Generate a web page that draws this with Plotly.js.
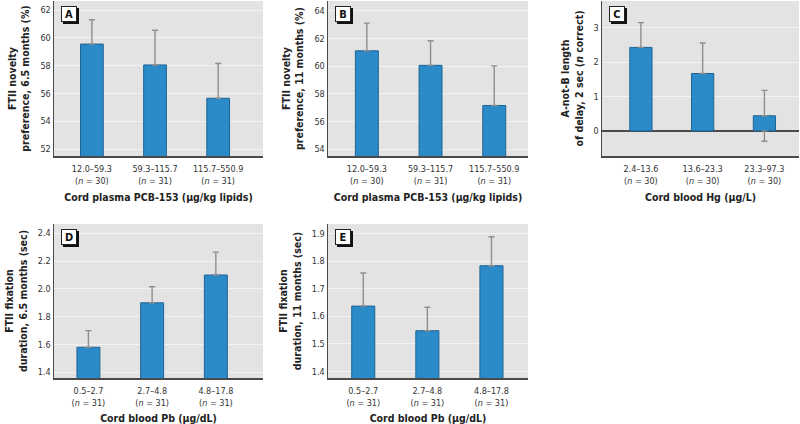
<!DOCTYPE html>
<html>
<head>
<meta charset="utf-8">
<script src="https://cdn.plot.ly/plotly-3.0.1.min.js"></script>
<style>
  html, body { margin: 0; padding: 0; background: #fff; }
  #chart { width: 800px; height: 424px; }
  #chart text { font-stretch: condensed; }
</style>
</head>
<body>
<div id="chart"></div>
<script>
// exposure groups (x tick labels)
const pcbGroups = ["12.0–59.3<br>(<i>n</i> = 30)", "59.3–115.7<br>(<i>n</i> = 31)", "115.7–550.9<br>(<i>n</i> = 31)"];
const hgGroups = ["2.4–13.6<br>(<i>n</i> = 30)", "13.6–23.3<br>(<i>n</i> = 30)", "23.3–97.3<br>(<i>n</i> = 30)"];
const pbGroups = ["0.5–2.7<br>(<i>n</i> = 31)", "2.7–4.8<br>(<i>n</i> = 31)", "4.8–17.8<br>(<i>n</i> = 31)"];

// panel means and error
const noveltyA = [59.55, 58.05, 55.65];
const noveltyAErr = [1.75, 2.5, 2.5];
const noveltyB = [61.1, 60.05, 57.15];
const noveltyBErr = [2.0, 1.78, 2.86];
const aNotB = [2.43, 1.67, 0.44];
const aNotBErr = [0.72, 0.89, 0.74];
const fixationD = [1.58, 1.90, 2.10];
const fixationDErr = [0.12, 0.115, 0.165];
const fixationE = [1.637, 1.548, 1.783];
const fixationEErr = [0.12, 0.085, 0.105];

const FONT = "Liberation Sans Narrow, DejaVu Sans Condensed, DejaVu Sans, sans-serif";
const W = 800, H = 424;

const panels = [
  { id: "A", x: "x", y: "y", cats: pcbGroups, vals: noveltyA, err: noveltyAErr,
    px: [54, 263], py: [1, 156], xr: [-0.6, 2.71], yr: [51.5, 62.65], dtick: 2, fmt: "",
    ytitle: "FTII novelty<br>preference, 6.5 months (%)", xtitle: "Cord plasma PCB-153 (µg/kg lipids)" },
  { id: "B", x: "x2", y: "y2", cats: pcbGroups, vals: noveltyB, err: noveltyBErr,
    px: [328, 528], py: [1, 156], xr: [-0.61, 2.53], yr: [53.5, 64.7], dtick: 2, fmt: "",
    ytitle: "FTII novelty<br>preference, 11 months (%)", xtitle: "Cord plasma PCB-153 (µg/kg lipids)" },
  { id: "C", x: "x3", y: "y3", cats: hgGroups, vals: aNotB, err: aNotBErr,
    px: [602, 799], py: [1, 156], xr: [-0.63, 2.56], yr: [-0.73, 3.78], dtick: 1, fmt: "",
    ytitle: "A-not-B length<br>of delay, 2 sec (<i>n</i> correct)", xtitle: "Cord blood Hg (µg/L)" },
  { id: "D", x: "x4", y: "y4", cats: pbGroups, vals: fixationD, err: fixationDErr,
    px: [54, 263], py: [224, 378], xr: [-0.54, 2.74], yr: [1.359, 2.467], dtick: 0.2, fmt: ".1f",
    ytitle: "FTII fixation<br>duration, 6.5 months (sec)", xtitle: "Cord blood Pb (µg/dL)" },
  { id: "E", x: "x5", y: "y5", cats: pbGroups, vals: fixationE, err: fixationEErr,
    px: [328, 528], py: [224, 378], xr: [-0.55, 2.57], yr: [1.377, 1.934], dtick: 0.1, fmt: ".1f",
    ytitle: "FTII fixation<br>duration, 11 months (sec)", xtitle: "Cord blood Pb (µg/dL)" }
];

const data = [];
const layout = {
  width: W, height: H,
  margin: { l: 0, r: 0, t: 0, b: 0 },
  paper_bgcolor: "#fff",
  plot_bgcolor: "#e3e3e3",
  showlegend: false,
  font: { family: FONT, size: 9, color: "#333" },
  annotations: []
};

panels.forEach((p, k) => {
  const idx = [0, 1, 2];
  data.push({
    type: "bar", x: idx, y: p.vals, xaxis: p.x, yaxis: p.y, width: 0.36,
    marker: { color: "#2b8ac8", line: { color: "#1e6394", width: 1 } },
    error_y: { type: "data", array: p.err, symmetric: false, arrayminus: [0, 0, 0],
               color: "#8e8e8e", thickness: 1.4, width: 3 },
    hoverinfo: "y"
  });
  // lower part of an error bar that pokes out below the zero baseline
  const tailX = idx.filter(i => p.err[i] > p.vals[i] && p.yr[0] < 0);
  if (tailX.length) {
    data.push({
      type: "scatter", mode: "markers", x: tailX, y: tailX.map(() => 0),
      xaxis: p.x, yaxis: p.y, marker: { size: 1, opacity: 0 },
      error_y: { type: "data", symmetric: false, array: tailX.map(() => 0),
                 arrayminus: tailX.map(i => p.err[i] - p.vals[i]),
                 color: "#8e8e8e", thickness: 1.4, width: 3 },
      hoverinfo: "skip"
    });
  }

  const xa = "xaxis" + (k === 0 ? "" : k + 1);
  const ya = "yaxis" + (k === 0 ? "" : k + 1);
  layout[xa] = {
    domain: [p.px[0] / W, p.px[1] / W], anchor: p.y, range: p.xr,
    tickmode: "array", tickvals: idx, ticktext: p.cats,
    showgrid: false, zeroline: false, showline: true, linecolor: "#4a4a4a", linewidth: 1.5,
    ticks: "outside", ticklen: 4, tickcolor: "rgba(0,0,0,0)",
    tickfont: { size: 9, color: "#333" }, fixedrange: true,
    title: { text: p.xtitle, standoff: 8, font: { size: 10.5, weight: "bold", color: "#222" } }
  };
  layout[ya] = {
    domain: [1 - p.py[1] / H, 1 - p.py[0] / H], anchor: p.x, range: p.yr,
    dtick: p.dtick, tickformat: p.fmt, ticks: "",
    showgrid: true, gridcolor: "#f3f3f3", gridwidth: 1,
    zeroline: p.yr[0] < 0, zerolinecolor: "#4a4a4a", zerolinewidth: 1.5,
    showline: true, linecolor: "#4a4a4a", linewidth: 1.5,
    tickfont: { size: 9, color: "#333" }, fixedrange: true,
    title: { text: p.ytitle, standoff: 8, font: { size: 10.5, weight: "bold", color: "#222" } }
  };

  // panel letter box with drop shadow
  const dom = { xref: p.x + " domain", yref: p.y + " domain", x: 0, y: 1,
                xanchor: "left", yanchor: "top", showarrow: false, width: 12, height: 12 };
  layout.annotations.push(Object.assign({}, dom, {
    text: "", xshift: 9, yshift: -7, bgcolor: "#111", bordercolor: "#111", borderwidth: 1
  }));
  layout.annotations.push(Object.assign({}, dom, {
    text: "<b>" + p.id + "</b>", xshift: 7, yshift: -5, bgcolor: "#fff",
    bordercolor: "#222", borderwidth: 1, font: { size: 11, color: "#111", family: FONT }
  }));
});

Plotly.newPlot("chart", data, layout, { displayModeBar: false, staticPlot: true });
</script>
</body>
</html>
